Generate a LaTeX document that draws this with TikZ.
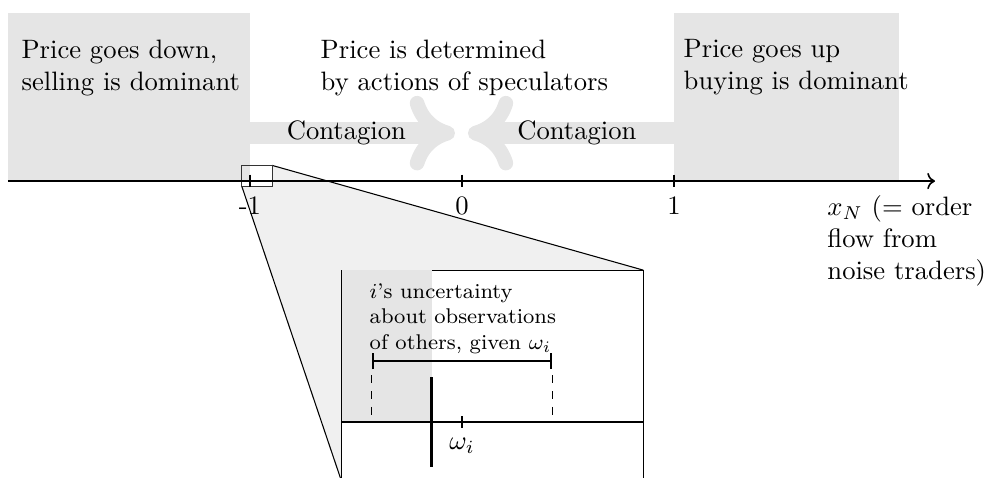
\documentclass[tikz,border=0pt]{standalone}
\usetikzlibrary{positioning, arrows.meta}

\begin{document}
\begin{tikzpicture}[
				x=2.8cm, y=2.8cm, semithick,
				region/.style={fill=gray!20},
				flowband/.style={draw=gray!20, line width=8pt, -{Computer Modern Rightarrow[length=17pt, width=28pt, line width=5.5pt]}},
				txt/.style={align=left, anchor=north west, inner sep=0pt},
				zoomarea/.style={inner sep=0pt, outer sep=0pt}
				]
				\useasboundingbox (-2.179,-1.396) rectangle (2.495,0.854);
				\clip (-2.179,-1.396) rectangle (2.495,0.854);
				\fill[region] (-2.142,0) rectangle (-1,0.792);
				\fill[region] (1,0) rectangle (2.061,0.792);
				\draw[flowband] (-1,0.226) -- (-0.033,0.226);
				\draw[flowband] (1,0.226) -- (0.028,0.226);
				% zoom onto -1
				\node[zoomarea, minimum width=0.398cm, minimum height=0.28cm] (zs) at (-0.967,0.024) {};
				\node[zoomarea, minimum width=3.98cm, minimum height=2.8cm] (zb) at (0.144,-0.92) {};
				\fill[gray!12] (zs.south west) -- (zs.south east) -- (zs.north east) -- (zb.north east) -- (zb.south east) -- (zb.south west) -- cycle;
				\path[thin] 
				(zs.north east) edge (zb.north east)
				(zs.south west) edge (zb.south west);
				\draw[thin, fill=white] (zb.south west) rectangle (zb.north east);
				\draw[thin, black!80] (zs.south west) rectangle (zs.north east);
				% axis
				\coordinate (axl) at (-2.142,0);
				\coordinate (axr) at (2.231,0);
				\draw[->] (axl) -- (axr);
				\foreach \x/\lbl in {-1/-1, 0/0, 1/1}
					\draw (\x,0.03) -- (\x,-0.03) node[below] (lab\x) {\lbl};
				% inset
				\coordinate (wi) at (0,-1.137);
				\fill[region] (zb.north west) rectangle (-0.142,-1.137);
				\draw (zb.west |- wi) -- (zb.east |- wi);
				\draw[line width=1.1pt] (-0.142,-0.925) -- (-0.142,-1.349);
				\draw (0,-1.109) -- (0,-1.165) node[below] (wlab) {$\omega_i$};
				\draw[thick, {Bar[width=6pt]}-{Bar[width=6pt]}] (-0.425,-0.849) -- (0.425,-0.849);
				\draw[thin, dashed] (-0.425,-0.915) -- (-0.425,-1.118);
				\draw[thin, dashed] (0.425,-0.915) -- (0.425,-1.118);
				\node[txt, font=\footnotesize] (unc) at (-0.439,-0.481) {$i$'s uncertainty\\about observations\\of others, given $\omega_i$};
				% labels
				\node[txt] (down) at (-2.081,0.67) {Price goes down,\\selling is dominant};
				\node[txt] (spec) at (-0.670,0.67) {Price is determined\\by actions of speculators};
				\node[txt] (up) at (1.042,0.67) {Price goes up\\buying is dominant};
				\node (cl) at (-0.545,0.226) {Contagion};
				\node (cr) at (0.542,0.226) {Contagion};
				\node[txt] (xlab) at (1.72,-0.066) {$x_N$ (= order\\flow from\\noise traders)};
			\end{tikzpicture}
\end{document}
